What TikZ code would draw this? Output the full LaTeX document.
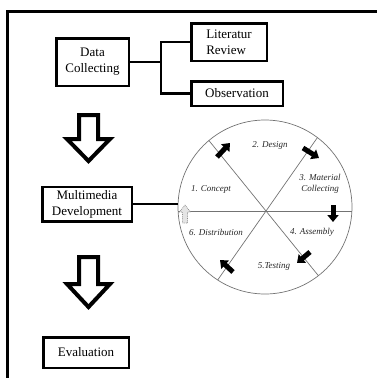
\documentclass[tikz,border=0pt]{standalone}
\usepackage{fontspec}
\setmainfont{Liberation Serif}
\usetikzlibrary{arrows.meta,calc}

\begin{document}
\begin{tikzpicture}[x=1pt, y=-1pt,
		box/.style={draw, line width=2.5pt, inner sep=0pt, align=center, font=\fontsize{13}{16}\selectfont},
		link/.style={line width=2.5pt},
		hollow/.style={line width=4pt, line join=miter},
		spoke/.style={draw=black!55, line width=0.7pt},
		phase/.style={font=\fontsize{9}{10.5}\selectfont\itshape, align=center, text=black!85},
		turn/.style={line width=5pt, -{Triangle[length=7pt, width=11pt]}}]
		\useasboundingbox (0,0) rectangle (376,378);
		% outer frame, runs off the page on the right and below
		\draw[line width=2.5pt] (7.5,385) -- (7.5,11.5) -- (385,11.5);
		% boxes
		\node[box, minimum width=72.5pt, minimum height=47.5pt] (dc) at (92.5,62) {Data\\Collecting};
		\node[box, align=left, minimum width=75.5pt, minimum height=37.5pt] (lit) at (229,42) {Literatur\\Review};
		\node[box, minimum width=91.5pt, minimum height=24.5pt] (obs) at (237,93.5) {Observation};
		\node[box, minimum width=89.5pt, minimum height=34.5pt] (mm) at (87,204) {Multimedia\\Development};
		\node[box, minimum width=85.5pt, minimum height=30.5pt] (ev) at (86,352.5) {Evaluation};
		% fork to the two sources
		\draw[link] (dc.east) -- ++(31,0) coordinate (fork);
		\draw[link] (lit.west) -| (fork) |- (obs.west);
		% hollow arrows down the left
		\draw[hollow] (79,115) -- ++(19,0) -- ++(0,24) -- ++(12,0) -- ++(-21.5,22) -- ++(-21.5,-22) -- ++(12,0) -- cycle;
		\draw[hollow] (79,257) -- ++(19,0) -- ++(0,27) -- ++(12,0) -- ++(-21.5,23) -- ++(-21.5,-23) -- ++(12,0) -- cycle;
		% development cycle
		\node[circle, spoke, draw, minimum size=174pt, inner sep=0pt] (cyc) at (265,207) {};
		\draw[link] (mm.east) -- (mm.east -| cyc.west);
		\coordinate (hub) at (266,211);
		\begin{scope}
			\clip (cyc.center) circle (87);
			\draw[spoke] ($(hub)+(-129:120)$) -- ($(hub)+(51:120)$);
			\draw[spoke] ($(hub)+(-55:120)$) -- ($(hub)+(125:120)$);
			\draw[spoke] ($(hub)+(180:120)$) -- ($(hub)+(0:120)$);
		\end{scope}
		% phases
		\node[phase] (p1) at (211,189) {1. Concept};
		\node[phase] (p2) at (270,145) {2. Design};
		\node[phase] (p3) at (320,184) {3. Material\\Collecting};
		\node[phase] (p4) at (312,232) {4. Assembly};
		\node[phase] (p5) at (274,266) {5.Testing};
		\node[phase] (p6) at (216,232) {6. Distribution};
		% turning arrows, clockwise
		\draw[turn] (217,157) -- (230,143);
		\draw[turn] (303,148) -- (319,158);
		\draw[turn] (333,205) -- (333,222);
		\draw[turn] (310,252) -- (297,263);
		\draw[turn] (233,272) -- (220,260);
		\draw[draw=black!45, densely dotted, fill=black!10, line width=0.8pt] (185,205) -- (190.5,212) -- (187.5,212) -- (187.5,223) -- (182.5,223) -- (182.5,212) -- (179.5,212) -- cycle;
	\end{tikzpicture}
\end{document}
